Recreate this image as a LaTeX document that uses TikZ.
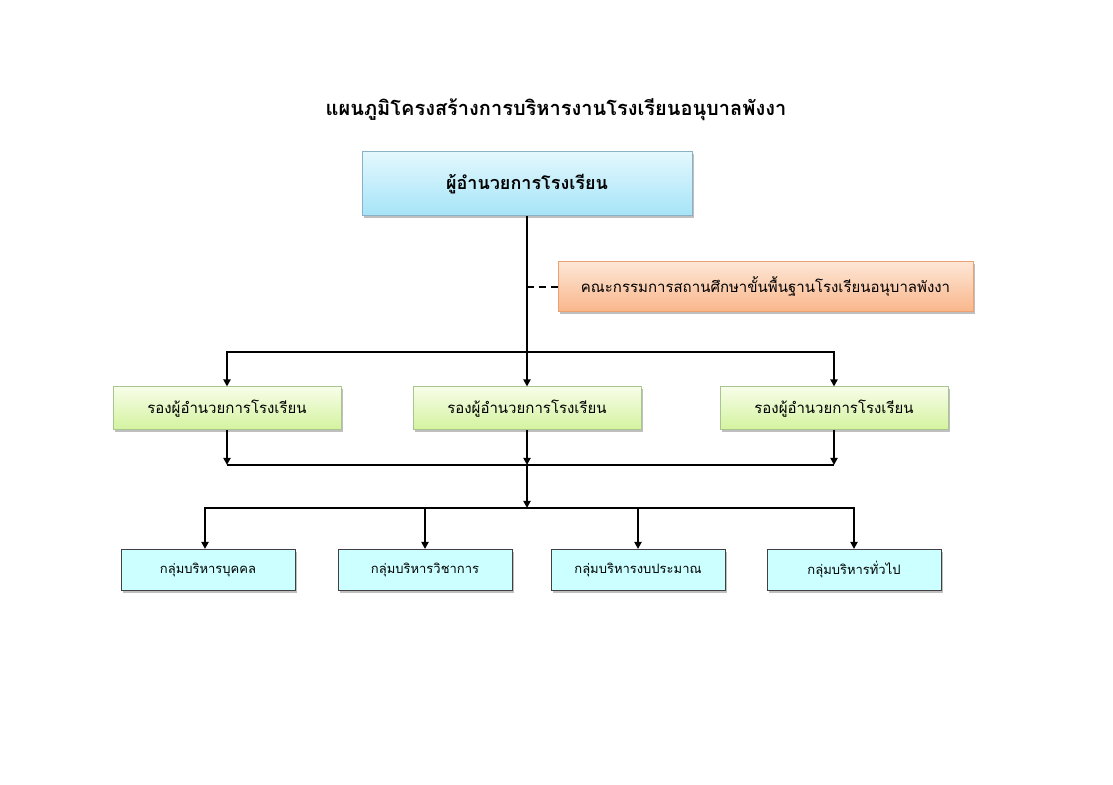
\documentclass[tikz,border=0pt]{standalone}
\usepackage{fontspec}
\newfontfamily\thaifont[Script=Thai]{Loma}
\usetikzlibrary{arrows.meta,positioning,shadows}
\definecolor{dirtop}{HTML}{E3F8FD}
\definecolor{dirbot}{HTML}{A5E4F8}
\definecolor{dirline}{HTML}{8CB0C4}
\definecolor{comtop}{HTML}{FDE6D6}
\definecolor{combot}{HTML}{F9B68A}
\definecolor{comline}{HTML}{EFA070}
\definecolor{vicetop}{HTML}{F7FDE8}
\definecolor{vicebot}{HTML}{D3F39E}
\definecolor{viceline}{HTML}{A8C490}
\definecolor{grpfill}{HTML}{CCFFFF}

\begin{document}
\begin{tikzpicture}[x=1pt, y=1pt,
  shade/.style={drop shadow={shadow xshift=2pt, shadow yshift=-2.5pt, fill=black, opacity=0.25}},
  dirbox/.style={draw=dirline, line width=1pt, top color=dirtop, bottom color=dirbot, shade,
    minimum width=330pt, minimum height=64pt, font=\thaifont\fontsize{18}{20}\selectfont\bfseries},
  combox/.style={draw=comline, line width=1pt, top color=comtop, bottom color=combot, shade,
    minimum width=415pt, minimum height=50pt, font=\thaifont\fontsize{15}{17}\selectfont},
  vicebox/.style={draw=viceline, line width=1pt, top color=vicetop, bottom color=vicebot, shade,
    minimum width=228pt, minimum height=43pt, font=\thaifont\fontsize{15}{17}\selectfont},
  grpbox/.style={draw=black!75, line width=1pt, fill=grpfill, shade,
    minimum width=174pt, minimum height=41pt, font=\thaifont\fontsize{13}{15}\selectfont},
  arr/.style={-{Triangle[length=7pt, width=7pt]}, line width=1.8pt},
  bar/.style={line width=1.8pt}]
\useasboundingbox (0,0) rectangle (1113,784);
\node[font=\thaifont\fontsize{20}{22}\selectfont\bfseries] (title) at (556,674) {แผนภูมิโครงสร้างการบริหารงานโรงเรียนอนุบาลพังงา};
\node[dirbox] (dir) at (527,600) {ผู้อำนวยการโรงเรียน};
\node[combox] (com) at (765.5,497) {คณะกรรมการสถานศึกษาขั้นพื้นฐานโรงเรียนอนุบาลพังงา};
\node[vicebox] (v2) at (527,375.5) {รองผู้อำนวยการโรงเรียน};
\node[vicebox, left=71pt of v2] (v1) {รองผู้อำนวยการโรงเรียน};
\node[vicebox, right=78pt of v2] (v3) {รองผู้อำนวยการโรงเรียน};
\node[grpbox] (g1) at (208,214) {กลุ่มบริหารบุคคล};
\node[grpbox, right=42pt of g1] (g2) {กลุ่มบริหารวิชาการ};
\node[grpbox, right=38pt of g2] (g3) {กลุ่มบริหารงบประมาณ};
\node[grpbox, right=41pt of g3] (g4) {กลุ่มบริหารทั่วไป};
\coordinate (bar1) at (527,432);
\coordinate (bar2) at (527,319);
\coordinate (bar3) at (527,276);
% director down to the deputies
\draw[arr] (dir.south) -- (v2.north);
\draw[bar, dash pattern=on 7pt off 5pt] (dir.south |- com.west) -- (com.west);
\draw[arr] (bar1) -| (v1.north);
\draw[arr] (bar1) -| (v3.north);
% deputies down to the groups
\draw[arr] (v1.south) -- (v1.south |- bar2);
\draw[arr] (v2.south) -- (bar2);
\draw[arr] (v3.south) -- (v3.south |- bar2);
\draw[bar] (v1.south |- bar2) -- (v3.south |- bar2);
\draw[arr] (bar2) -- (bar3);
\draw[arr] (bar3) -| ([xshift=-3pt]g1.north);
\draw[arr] (bar3) -| (g2.north);
\draw[arr] (bar3) -| (g3.north);
\draw[arr] (bar3) -| (g4.north);
\end{tikzpicture}
\end{document}
